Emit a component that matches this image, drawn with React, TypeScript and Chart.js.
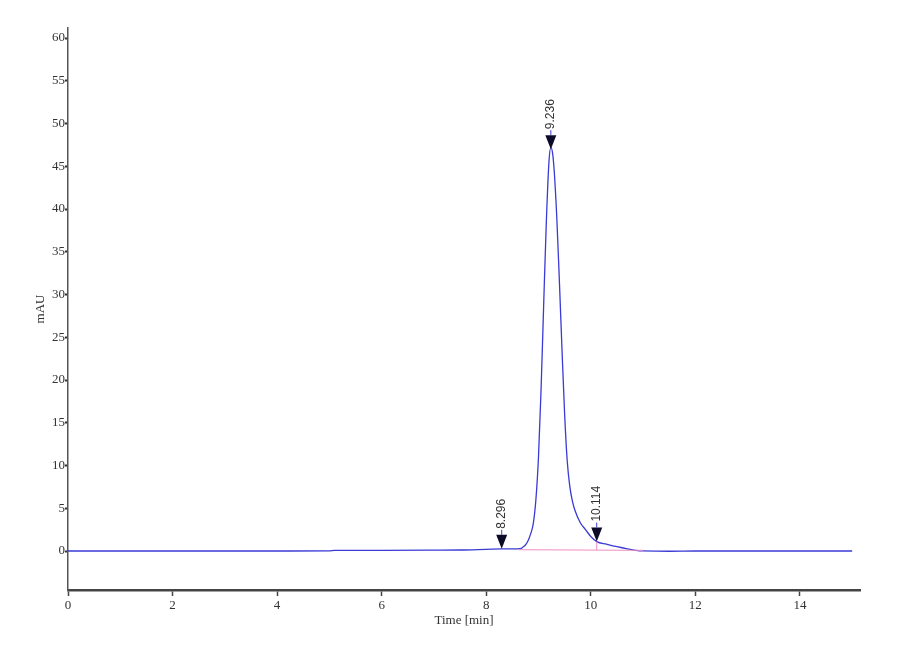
import React, { useEffect, useRef } from "react";
import { Chart, registerables } from "chart.js";

Chart.register(...registerables);

// chromatogram trace
const timeMin = [
  0, 1, 2, 3, 4, 5, 5.1, 6, 7, 7.5, 8.0, 8.3, 8.6, 8.67, 8.7, 8.75, 8.8, 8.85, 8.9, 8.95,
  9.0, 9.05, 9.1, 9.15, 9.2, 9.236, 9.27, 9.3, 9.35, 9.4, 9.45, 9.5, 9.55, 9.6, 9.65, 9.7,
  9.8, 9.9, 10.0, 10.114, 10.3, 10.5, 10.7, 10.9, 11.0, 11.5, 12, 13, 14, 15,
];
const signalMau = [
  0, 0, 0, 0, 0, 0.02, 0.08, 0.08, 0.1, 0.12, 0.2, 0.25, 0.25, 0.3, 0.45, 0.7, 1.2, 2.0, 3.2, 6.0,
  11.0, 19.0, 29.0, 38.5, 45.5, 47.2, 46.5, 44.5, 39.0, 31.5, 23.5, 16.0, 10.5, 7.5, 5.8, 4.7,
  3.3, 2.5, 1.7, 1.1, 0.8, 0.5, 0.25, 0.05, 0.02, -0.03, 0, 0, 0, 0,
];

// integration baseline and drop line
const baselineTimes = [8.62, 11.0];
const baselineMau = [0.15, 0.08];
const dropTimes = [10.114, 10.114];
const dropMau = [0.12, 1.1];

// peak markers
const peakTimes = [8.296, 9.236, 10.114];
const peakHeights = [0.25, 47.0, 1.1];
const peakLabels = ["8.296", "9.236", "10.114"];

const xTicks = [0, 2, 4, 6, 8, 10, 12, 14];
const yTicks = [0, 5, 10, 15, 20, 25, 30, 35, 40, 45, 50, 55, 60];

const toPoints = (xs: number[], ys: number[]) => xs.map((x, i) => ({ x, y: ys[i] }));

const peakMarkers = {
  id: "peakMarkers",
  afterDatasetsDraw(chart: any) {
    const { ctx, scales } = chart;
    ctx.save();
    peakTimes.forEach((t, i) => {
      const px = scales.x.getPixelForValue(t);
      const py = scales.y.getPixelForValue(peakHeights[i]);
      ctx.fillStyle = "#0b0b28";
      ctx.beginPath();
      ctx.moveTo(px, py);
      ctx.lineTo(px - 5.5, py - 14);
      ctx.lineTo(px + 5.5, py - 14);
      ctx.closePath();
      ctx.fill();
      ctx.strokeStyle = "#3a3ad6";
      ctx.lineWidth = 1;
      ctx.beginPath();
      ctx.moveTo(px, py - 14);
      ctx.lineTo(px, py - 19);
      ctx.stroke();
      ctx.save();
      ctx.translate(px, py - 20);
      ctx.rotate(-Math.PI / 2);
      ctx.font = '12px "Liberation Sans"';
      ctx.fillStyle = "#333";
      ctx.textAlign = "left";
      ctx.textBaseline = "middle";
      ctx.fillText(peakLabels[i], 0, 0);
      ctx.restore();
    });
    ctx.restore();
  },
};

const serif = { family: '"Liberation Serif", serif', size: 13 };

const App = () => {
  const canvasRef = useRef<HTMLCanvasElement | null>(null);

  useEffect(() => {
    const ctx = canvasRef.current?.getContext("2d");
    if (!ctx) return;

    const chart = new Chart(ctx, {
      type: "line",
      data: {
        datasets: [
          {
            label: "baseline",
            data: toPoints(baselineTimes, baselineMau),
            borderColor: "#f08cc0",
            borderWidth: 1,
            pointRadius: 0,
          },
          {
            label: "drop",
            data: toPoints(dropTimes, dropMau),
            borderColor: "#f08cc0",
            borderWidth: 1,
            pointRadius: 0,
          },
          {
            label: "signal",
            data: toPoints(timeMin, signalMau),
            borderColor: "#3a3ad6",
            borderWidth: 1.3,
            pointRadius: 0,
            cubicInterpolationMode: "monotone",
          },
        ],
      },
      options: {
        animation: false,
        responsive: true,
        maintainAspectRatio: false,
        layout: { padding: { left: 0, top: 28, right: 40, bottom: 28 } },
        plugins: { legend: { display: false }, tooltip: { enabled: false } },
        scales: {
          x: {
            type: "linear",
            min: 0,
            max: 15.15,
            afterFit: (s: any) => {
              s.height = 42;
            },
            afterBuildTicks: (s: any) => {
              s.ticks = xTicks.map((v) => ({ value: v }));
            },
            border: { display: true, color: "#444", width: 2.5 },
            grid: { display: true, drawOnChartArea: false, tickLength: 6, color: "#444", tickWidth: 1.5 },
            ticks: { color: "#333", font: serif, padding: 2, maxRotation: 0 },
            title: { display: true, text: "Time [min]", color: "#333", font: serif, padding: { top: 0, bottom: 4 } },
          },
          y: {
            type: "linear",
            min: -4.56,
            max: 61.17,
            afterFit: (s: any) => {
              s.width = 68;
            },
            afterBuildTicks: (s: any) => {
              s.ticks = yTicks.map((v) => ({ value: v }));
            },
            border: { display: true, color: "#555", width: 1.5 },
            grid: { display: true, drawOnChartArea: false, tickLength: 3, color: "#333", tickWidth: 2 },
            ticks: { color: "#333", font: serif, padding: 0 },
            title: { display: true, text: "mAU", color: "#333", font: serif, padding: { top: 33, bottom: 0 } },
          },
        },
      },
      plugins: [peakMarkers],
    });

    return () => {
      chart.destroy();
    };
  }, []);

  return (
    <div style={{ position: "fixed", left: 0, top: 0, width: "900px", height: "660px", background: "#fff" }}>
      <canvas ref={canvasRef} style={{ width: "100%", height: "100%" }}></canvas>
    </div>
  );
};

export default App;
